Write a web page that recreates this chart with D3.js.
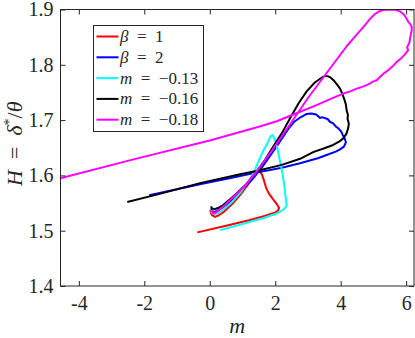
<!DOCTYPE html>
<html><head><meta charset="utf-8">
<script src="https://cdn.jsdelivr.net/npm/d3@7"></script>
<style>body{margin:0;background:#fff}svg{display:block}text{font-family:"Liberation Serif","DejaVu Serif",serif;fill:#262626}</style>
</head><body><svg id="c" width="415" height="338"></svg>
<script>
const xTicks=[-4,-2,0,2,4,6];
const yTicks=[1.4,1.5,1.6,1.7,1.8,1.9];
const legendLabels=[["β","1"],["β","2"],["m","−0.13"],["m","−0.16"],["m","−0.18"]];
const colors=["#ff0000","#0000ff","#00ffff","#000000","#ff00ff"];
const beta1=[[-0.38,1.497],[0.5,1.509],[1.2,1.519],[1.7,1.527],[2.0,1.533],[2.08,1.536],[2.12,1.541],[2.06,1.547],[1.92,1.558],[1.8,1.568],[1.72,1.578],[1.66,1.590],[1.6,1.601],[1.54,1.606],[1.48,1.607],[1.36,1.600],[1.2,1.586],[0.95,1.566],[0.7,1.549],[0.45,1.535],[0.28,1.528],[0.16,1.525],[0.07,1.528],[0.03,1.533],[0.02,1.538]];
const beta2=[[-1.85,1.564],[-0.3,1.584],[0.6,1.595],[1.43,1.605],[2.2,1.614],[2.76,1.622],[3.3,1.631],[3.57,1.637],[3.85,1.643],[3.98,1.647],[4.1,1.652],[4.16,1.660],[4.12,1.667],[4.07,1.672],[4.02,1.679],[3.93,1.685],[3.86,1.688],[3.77,1.694],[3.67,1.697],[3.6,1.702],[3.45,1.705],[3.37,1.704],[3.25,1.710],[3.11,1.712],[2.95,1.711],[2.8,1.706],[2.6,1.698],[2.4,1.684],[2.15,1.662],[1.9,1.640],[1.6,1.615],[1.3,1.593],[1.0,1.575],[0.75,1.560],[0.5,1.546],[0.3,1.538],[0.15,1.534],[0.07,1.535],[0.05,1.541]];
const m013=[[0.32,1.501],[1.0,1.512],[1.6,1.522],[2.05,1.531],[2.25,1.538],[2.35,1.545],[2.32,1.560],[2.27,1.585],[2.22,1.605],[2.15,1.625],[2.07,1.648],[1.99,1.665],[1.92,1.673],[1.86,1.671],[1.78,1.660],[1.64,1.645],[1.5,1.627],[1.38,1.610],[1.2,1.590],[0.95,1.570],[0.7,1.553],[0.45,1.540],[0.25,1.532],[0.12,1.530],[0.06,1.533],[0.06,1.538]];
const m016=[[-2.52,1.552],[-1.5,1.567],[-0.3,1.586],[0.93,1.602],[1.43,1.608],[2.2,1.619],[2.76,1.630],[3.16,1.642],[3.5,1.649],[3.77,1.655],[3.95,1.661],[4.08,1.667],[4.18,1.676],[4.23,1.686],[4.25,1.694],[4.21,1.702],[4.22,1.710],[4.18,1.718],[4.16,1.728],[4.12,1.736],[4.06,1.746],[3.98,1.757],[3.88,1.765],[3.8,1.771],[3.67,1.778],[3.55,1.780],[3.45,1.778],[3.21,1.768],[2.96,1.752],[2.71,1.730],[2.45,1.703],[2.2,1.676],[1.94,1.652],[1.7,1.629],[1.43,1.607],[1.1,1.583],[0.85,1.569],[0.62,1.557],[0.4,1.546],[0.25,1.541],[0.15,1.539],[0.07,1.540],[0.04,1.544]];
const m018=[[-4.56,1.595],[-2.33,1.629],[0,1.663],[1.5,1.688],[2.05,1.698],[2.8,1.716],[3.3,1.728],[3.68,1.738],[4.08,1.748],[4.3,1.752],[4.49,1.757],[4.7,1.761],[4.89,1.766],[5.0,1.770],[5.1,1.772],[5.2,1.778],[5.35,1.786],[5.43,1.789],[5.5,1.793],[5.6,1.798],[5.71,1.805],[5.85,1.812],[5.95,1.818],[6.06,1.826],[6.03,1.832],[6.1,1.840],[6.12,1.848],[6.15,1.856],[6.17,1.863],[6.17,1.869],[6.12,1.874],[6.06,1.878],[6.0,1.885],[5.93,1.891],[5.83,1.896],[5.71,1.899],[5.5,1.900],[5.3,1.899],[5.15,1.896],[5.03,1.891],[4.9,1.883],[4.69,1.868],[4.45,1.852],[4.19,1.834],[3.77,1.801],[3.0,1.740],[2.45,1.692],[1.9,1.645],[1.43,1.607],[1.1,1.583],[0.72,1.561],[0.42,1.544],[0.21,1.534],[0.11,1.531],[0.06,1.537]];
const series=[beta1,beta2,m013,m016,m018];

const svg=d3.select("#c");
const L=60.5,R=414,T=9.5,B=286;
const x=d3.scaleLinear().domain([-4.56,6.24]).range([L,R]);
const y=d3.scaleLinear().domain([1.4,1.9]).range([B,T]);
const g=svg.append("g");
g.append("defs").append("clipPath").attr("id","clip").append("rect").attr("x",L).attr("y",T).attr("width",R-L).attr("height",B-T);
const line=d3.line().x(d=>x(d[0])).y(d=>y(d[1]));
g.append("g").attr("clip-path","url(#clip)").selectAll("path").data(series).join("path")
 .attr("d",line).attr("fill","none").attr("stroke",(d,i)=>colors[i]).attr("stroke-width",2).attr("stroke-linejoin","round");

// axes
const ax=d3.axisBottom(x).tickValues(xTicks).tickSize(-5).tickPadding(10).tickFormat(d=>String(d));
const ay=d3.axisLeft(y).tickValues(yTicks).tickSize(-5).tickPadding(7).tickFormat(d3.format(".1f"));
const axT=d3.axisTop(x).tickValues(xTicks).tickSize(-5).tickFormat("");
const ayR=d3.axisRight(y).tickValues(yTicks).tickSize(-5).tickFormat("");
function style(s){s.select(".domain").remove();s.selectAll("line").attr("stroke","#262626");s.selectAll("text").attr("font-size",20).attr("fill","#262626").attr("font-family","Liberation Serif");}
g.append("g").attr("transform",`translate(0,${B})`).call(ax).call(style);
g.append("g").attr("transform",`translate(${L},0)`).call(ay).call(style);
g.append("g").attr("transform",`translate(0,${T})`).call(axT).call(style);
g.append("g").attr("transform",`translate(${R},0)`).call(ayR).call(style);
g.append("rect").attr("x",L).attr("y",T).attr("width",R-L).attr("height",B-T).attr("fill","none").attr("stroke","#262626").attr("stroke-width",1);

// labels
g.append("text").attr("x",(L+R)/2).attr("y",333).attr("text-anchor","middle").attr("font-size",22).attr("font-style","italic").text("m");
const yl=g.append("text").attr("transform",`translate(22,${(T+B)/2-4}) rotate(-90)`).attr("text-anchor","middle").attr("font-size",22);
yl.append("tspan").attr("font-style","italic").text("H");
yl.append("tspan").text("\u2002=\u2002");
yl.append("tspan").attr("font-style","italic").text("δ");
yl.append("tspan").attr("font-size",14).attr("dy",-8).text("*");
yl.append("tspan").attr("dy",8).text("/");
yl.append("tspan").attr("font-style","italic").text("θ");

// legend
const lg=g.append("g");
lg.append("rect").attr("x",93.5).attr("y",25.5).attr("width",110).attr("height",106).attr("fill","#fff").attr("stroke","#262626").attr("stroke-width",1);
legendLabels.forEach((lab,i)=>{
  const yy=36.5+i*20.8;
  lg.append("line").attr("x1",96.5).attr("x2",118.5).attr("y1",yy).attr("y2",yy).attr("stroke",colors[i]).attr("stroke-width",2);
  const t=lg.append("text").attr("x",120).attr("y",yy+5.5).attr("font-size",17);
  t.append("tspan").attr("font-style","italic").text(lab[0]);
  t.append("tspan").text("\u2002=\u2002"+lab[1]);
});
</script></body></html>
